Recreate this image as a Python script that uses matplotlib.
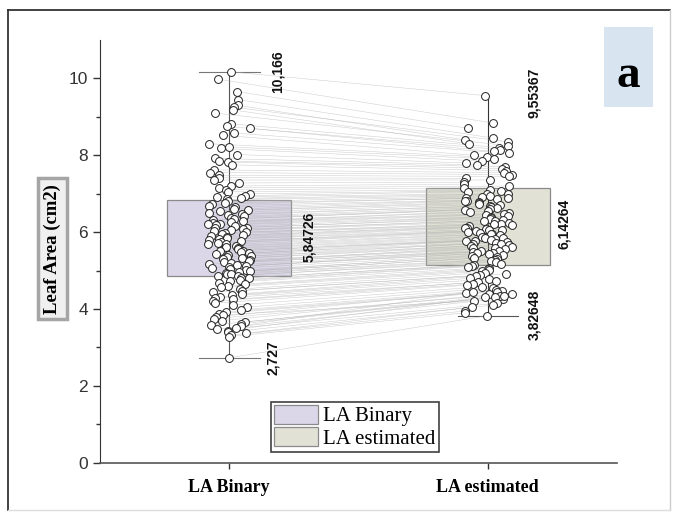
import numpy as np
import matplotlib.pyplot as plt
from matplotlib.patches import Rectangle, Patch
from matplotlib.lines import Line2D

# paired leaf area values (cm2): LA Binary vs LA estimated
la_binary = [10.17, 9.98, 9.66, 9.45, 9.30, 9.25, 9.18, 9.10, 8.82, 8.75,
             8.70, 8.58, 8.52, 8.30, 8.22, 8.18, 8.02, 7.92, 7.85, 7.82,
             7.75, 7.62, 7.55, 7.48, 7.42, 7.35, 7.28, 7.20, 7.15, 7.10,
             7.05, 7.00, 6.95, 6.92, 6.88, 6.85, 6.80, 6.76, 6.72, 6.68,
             6.65, 6.60, 6.58, 6.55, 6.50, 6.48, 6.45, 6.42, 6.38, 6.35,
             6.32, 6.30, 6.27, 6.25, 6.22, 6.20, 6.18, 6.15, 6.12, 6.10,
             6.08, 6.05, 6.02, 6.00, 5.98, 5.95, 5.92, 5.90, 5.88, 5.85,
             5.82, 5.80, 5.78, 5.75, 5.72, 5.70, 5.68, 5.65, 5.62, 5.60,
             5.58, 5.55, 5.52, 5.50, 5.48, 5.45, 5.42, 5.40, 5.38, 5.35,
             5.32, 5.30, 5.28, 5.25, 5.22, 5.20, 5.18, 5.15, 5.12, 5.10,
             5.08, 5.05, 5.02, 5.00, 4.97, 4.95, 4.92, 4.90, 4.87, 4.85,
             4.82, 4.80, 4.76, 4.72, 4.68, 4.65, 4.60, 4.56, 4.52, 4.48,
             4.44, 4.40, 4.36, 4.32, 4.28, 4.25, 4.20, 4.15, 4.10, 4.05,
             3.98, 3.92, 3.88, 3.85, 3.80, 3.75, 3.70, 3.66, 3.62, 3.58,
             3.55, 3.50, 3.47, 3.44, 3.40, 3.37, 3.32, 3.28, 2.727]
la_estimated = [9.554, 8.84, 8.70, 8.45, 8.40, 8.35, 8.30, 8.25, 8.20, 8.15,
                8.10, 8.05, 8.00, 7.95, 7.90, 7.85, 7.80, 7.75, 7.70, 7.65,
                7.60, 7.55, 7.50, 7.45, 7.40, 7.35, 7.30, 7.25, 7.20, 7.15,
                7.10, 7.08, 7.05, 7.00, 6.98, 6.95, 6.92, 6.90, 6.88, 6.85,
                6.82, 6.80, 6.78, 6.75, 6.72, 6.70, 6.68, 6.65, 6.62, 6.60,
                6.58, 6.55, 6.52, 6.50, 6.48, 6.45, 6.42, 6.40, 6.38, 6.35,
                6.32, 6.30, 6.28, 6.25, 6.22, 6.20, 6.18, 6.15, 6.12, 6.10,
                6.08, 6.06, 6.05, 6.02, 6.00, 5.98, 5.96, 5.95, 5.92, 5.88,
                5.85, 5.84, 5.82, 5.80, 5.78, 5.76, 5.75, 5.72, 5.70, 5.68,
                5.66, 5.64, 5.62, 5.60, 5.58, 5.55, 5.52, 5.50, 5.48, 5.46,
                5.45, 5.42, 5.40, 5.38, 5.35, 5.32, 5.30, 5.28, 5.25, 5.22,
                5.18, 5.15, 5.12, 5.10, 5.08, 5.05, 5.02, 4.98, 4.95, 4.92,
                4.88, 4.85, 4.80, 4.78, 4.72, 4.70, 4.65, 4.62, 4.58, 4.55,
                4.50, 4.48, 4.45, 4.25, 4.42, 4.40, 4.38, 4.35, 4.33, 4.30,
                4.20, 4.15, 4.45, 4.30, 4.10, 4.05, 3.95, 3.90, 3.826]

categories = ['LA Binary', 'LA estimated']
means = [5.84726, 6.14264]
box_low = [4.86, 5.15]
box_high = [6.84, 7.16]
max_vals = [10.166, 9.55367]
min_vals = [2.727, 3.82648]
max_labels = ['10,166', '9,55367']
mean_labels = ['5,84726', '6,14264']
min_labels = ['2,727', '3,82648']
box_colors = ['#dcd7e8', '#e1e2d5']

fig = plt.figure(figsize=(6.73, 5.13), dpi=100)
ax = fig.add_axes([0.1486, 0.098, 0.7682, 0.824])
ax.set_xlim(-0.5, 1.5)
ax.set_ylim(0, 11)

# boxes (mean +/- sd)
for i in range(2):
    ax.add_patch(Rectangle((i - 0.24, box_low[i]), 0.48, box_high[i] - box_low[i],
                           facecolor=box_colors[i], edgecolor='#8a8a8a', lw=0.9, zorder=1))

# whiskers
ax.plot([0, 0], [min_vals[0], max_vals[0]], color='#555555', lw=0.8, zorder=2)
ax.plot([-0.117, 0.117], [max_vals[0], max_vals[0]], color='#777777', lw=0.8, zorder=2)
ax.plot([-0.117, 0.117], [min_vals[0], min_vals[0]], color='#777777', lw=0.8, zorder=2)
ax.plot([1, 1], [min_vals[1], max_vals[1]], color='#333333', lw=0.8, zorder=2)
ax.plot([1 - 0.117, 1 + 0.117], [min_vals[1], min_vals[1]], color='#555555', lw=0.8, zorder=2)

# scatter jitter (deterministic hash, positions only)
n = len(la_binary)
idx = np.arange(n)
jit_b = ((np.sin(idx * 12.9898 + 1.0) * 43758.5453) % 1 - 0.5) * 0.17
jit_e = ((np.sin(idx * 78.233 + 4.0) * 24634.6345) % 1 - 0.5) * 0.19
xb = 0 + jit_b
xe = 1 + jit_e

# paired lines
for k in range(n):
    ax.plot([xb[k], xe[k]], [la_binary[k], la_estimated[k]],
            color='#b5b5b5', lw=0.35, alpha=0.7, zorder=2)

ax.scatter(xb, la_binary, s=32, facecolor='white', edgecolor='#222222', lw=0.7, zorder=3)
ax.scatter(xe, la_estimated, s=32, facecolor='white', edgecolor='#222222', lw=0.7, zorder=3)

# value labels
lab_font = dict(family='Liberation Sans', fontsize=10, fontweight='bold', rotation=90,
                ha='center', va='center', color='#111111')
ax.text(0.187, max_vals[0], max_labels[0], **lab_font)
ax.text(0.307, 5.87, mean_labels[0], **lab_font)
ax.text(0.171, 2.74, min_labels[0], **lab_font)
ax.text(1.179, 9.62, max_labels[1], **lab_font)
ax.text(1.295, 6.21, mean_labels[1], **lab_font)
ax.text(1.179, 3.85, min_labels[1], **lab_font)

# axes styling
for s in ['top', 'right']:
    ax.spines[s].set_visible(False)
ax.spines['left'].set_color('#333333')
ax.spines['bottom'].set_color('#555555')
ax.spines['bottom'].set_linewidth(1.2)
ax.set_yticks([0, 2, 4, 6, 8, 10])
ax.set_yticks([1, 3, 5, 7, 9], minor=True)
ax.tick_params(axis='y', which='major', length=5, width=1, color='#333333',
               labelsize=12.5, labelcolor='#333333')
ax.tick_params(axis='y', which='minor', length=3, width=1, color='#333333')
for t in ax.get_yticklabels():
    t.set_family('Liberation Sans')
ax.set_xticks([0, 1])
ax.set_xticklabels(categories, family='Liberation Serif', fontweight='bold', fontsize=13)
ax.tick_params(axis='x', length=4.5, width=1, color='#333333', pad=7)

# y label in a box
fig.text(0.078, 0.515, 'Leaf Area (cm2)', rotation=90, ha='center', va='center',
         family='Liberation Serif', fontweight='bold', fontsize=13.5,
         bbox=dict(boxstyle='square,pad=0.3', facecolor='#f0f0f0', edgecolor='#a5a5a5', lw=2.5))

# legend
handles = [Patch(facecolor=box_colors[0], edgecolor='#8a8a8a', lw=0.9),
           Patch(facecolor=box_colors[1], edgecolor='#8a8a8a', lw=0.9)]
leg = ax.legend(handles, categories, loc='lower left', bbox_to_anchor=(271 / 673, 1 - 452 / 513),
                bbox_transform=fig.transFigure, prop=dict(family='Liberation Serif', size=15),
                handlelength=2.1, handleheight=1.0, labelspacing=0.05, handletextpad=0.25,
                borderpad=0.15, borderaxespad=0, fancybox=False, frameon=True)
leg.get_frame().set_edgecolor('#111111')
leg.get_frame().set_linewidth(1.2)

# panel letter
fig.add_artist(Rectangle((604 / 673, 1 - 107 / 513), 49 / 673, 80 / 513,
                         transform=fig.transFigure, facecolor='#d8e5f1', edgecolor='none'))
fig.text(628.5 / 673, 1 - 87 / 513, 'a', ha='center', va='baseline',
         family='Liberation Serif', fontweight='bold', fontsize=34)

# outer frame
fig.add_artist(Line2D([8 / 673, 8 / 673], [3 / 513, 503 / 513], transform=fig.transFigure,
                      color='#333333', lw=1.3))
fig.add_artist(Line2D([8 / 673, 670 / 673], [503 / 513, 503 / 513], transform=fig.transFigure,
                      color='#333333', lw=1.3))
fig.add_artist(Line2D([670 / 673, 670 / 673], [3 / 513, 503 / 513], transform=fig.transFigure,
                      color='#cccccc', lw=1))
fig.add_artist(Line2D([8 / 673, 670 / 673], [3 / 513, 3 / 513], transform=fig.transFigure,
                      color='#dddddd', lw=1))

fig.savefig('out.png', dpi=100)
